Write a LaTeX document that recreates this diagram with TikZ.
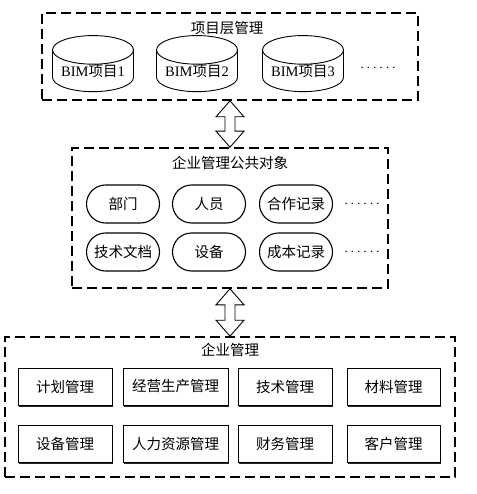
\documentclass[tikz,border=0pt]{standalone}
\usepackage{fontspec}
\setmainfont{Liberation Serif}
\newfontfamily\cjk{Noto Sans CJK SC}
\usepackage{tikz}
\usetikzlibrary{positioning,calc,shapes.geometric,shapes.misc,shadows}
\tikzstyle{layer} = [
    rectangle,
    draw,
    line width = 1.6pt,
    dash pattern = on 10pt off 5pt
]
\tikzstyle{project} = [
    cylinder,
    draw,
    shape border rotate = 90,
    aspect = 0.45,
    line width = 0.9pt,
    minimum width = 81pt,
    minimum height = 48pt,
    inner sep = 0pt
]
\tikzstyle{pubobj} = [
    rounded rectangle,
    draw,
    line width = 1.1pt,
    minimum width = 73pt,
    minimum height = 38pt,
    inner sep = 0pt
]
\tikzstyle{dept} = [
    rectangle,
    draw,
    fill = white,
    line width = 0.9pt,
    minimum height = 37pt,
    inner sep = 0pt,
    drop shadow = {shadow xshift = 1.3pt, shadow yshift = -1.5pt, fill = black!85, opacity = 1}
]
\tikzstyle{link} = [
    draw,
    fill = white,
    line width = 0.9pt,
    line join = miter
]
% hollow double arrow between two named points (top, bottom)
\newcommand{\linkarrow}[2]{%
    \draw[link] (#1) -- ($(#1)+(14,-16)$) -- ($(#1)+(5,-16)$) -- ($(#2)+(5,16)$)
        -- ($(#2)+(14,16)$) -- (#2) -- ($(#2)+(-14,16)$) -- ($(#2)+(-5,16)$)
        -- ($(#1)+(-5,-16)$) -- ($(#1)+(-14,-16)$) -- cycle;
}

\begin{document}
\begin{tikzpicture}[x = 1pt, y = 1pt, font = \fontsize{14.5}{17}\selectfont\cjk]
                \useasboundingbox (0,0) rectangle (476,-494);
                % project layer
                \node[layer, minimum width = 376pt, minimum height = 87pt] (proj) at (230,-56.5) {};
                \node (projtitle) at (227,-28) {项目层管理};
                \node[project] (bim1) at (93,-71) {{\rmfamily BIM}项目{\rmfamily 1}};
                \node[project] (bim2) at (197,-71) {{\rmfamily BIM}项目{\rmfamily 2}};
                \node[project] (bim3) at (303,-71) {{\rmfamily BIM}项目{\rmfamily 3}};
                \node (bimmore) at (378,-68) {$\cdots\cdots$};
                % public objects
                \node[layer, minimum width = 316pt, minimum height = 140pt] (pub) at (230,-218) {};
                \node (pubtitle) at (230,-163) {企业管理公共对象};
                \node[pubobj] (bumen) at (123,-204) {部门};
                \node[pubobj] (renyuan) at (209,-204) {人员};
                \node[pubobj] (hezuo) at (296,-204) {合作记录};
                \node (pubmore1) at (362,-204) {$\cdots\cdots$};
                \node[pubobj] (wendang) at (123,-252) {技术文档};
                \node[pubobj] (shebei) at (209,-252) {设备};
                \node[pubobj] (chengben) at (296,-252) {成本记录};
                \node (pubmore2) at (362,-252) {$\cdots\cdots$};
                % enterprise management
                \node[layer, minimum width = 450pt, minimum height = 140pt] (ent) at (230,-407) {};
                \node (enttitle) at (230,-350) {企业管理};
                \node[dept, minimum width = 94pt] (jihua) at (65,-386.5) {计划管理};
                \node[dept, minimum width = 105pt] (jingying) at (175.5,-386.5) {经营生产管理};
                \node[dept, minimum width = 94pt] (jishu) at (285,-386.5) {技术管理};
                \node[dept, minimum width = 93pt] (cailiao) at (393.5,-386.5) {材料管理};
                \node[dept, minimum width = 94pt] (sbgl) at (65,-444) {设备管理};
                \node[dept, minimum width = 105pt] (renli) at (175.5,-444) {人力资源管理};
                \node[dept, minimum width = 94pt] (caiwu) at (285,-444) {财务管理};
                \node[dept, minimum width = 93pt] (kehu) at (393.5,-444) {客户管理};
                % links between layers
                \linkarrow{proj.south}{pub.north}
                \linkarrow{pub.south}{ent.north}
            \end{tikzpicture}
\end{document}
